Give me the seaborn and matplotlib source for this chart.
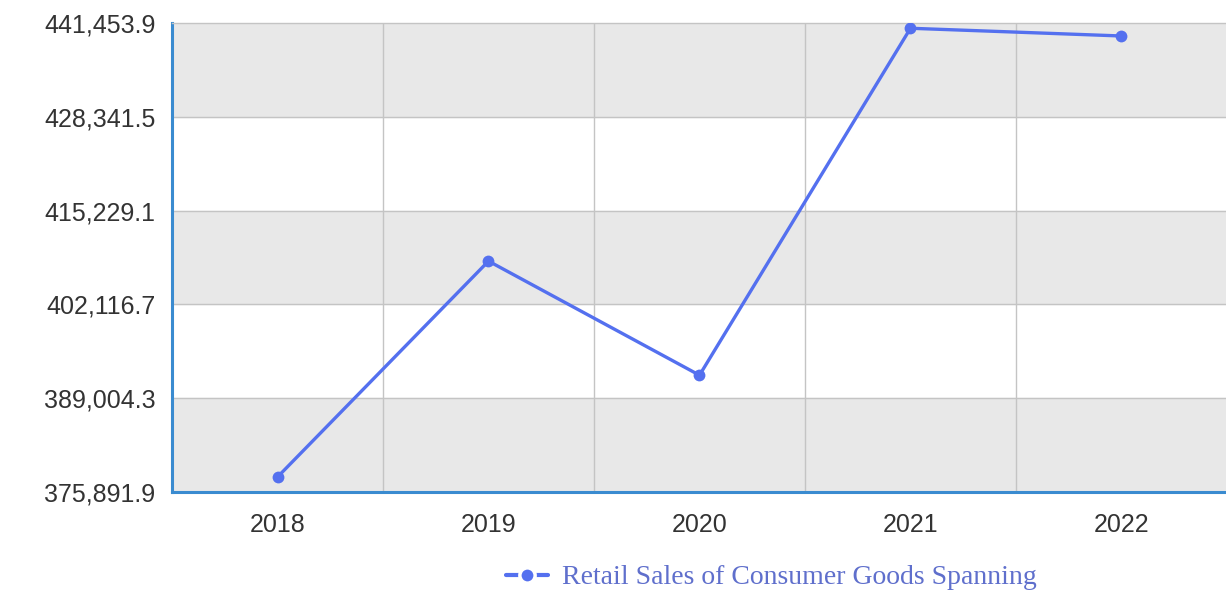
import numpy as np
import pandas as pd
import matplotlib.pyplot as plt
import seaborn as sns

# chart data
years = ["2018", "2019", "2020", "2021", "2022"]
sales = [377990.0, 408170.0, 392220.0, 440720.0, 439640.0]
y_ticks = [375891.9, 389004.3, 402116.7, 415229.1, 428341.5, 441453.9]
series_name = "Retail Sales of Consumer Goods Spanning"

df = pd.DataFrame({"Year": years, "Sales": sales, "Series": series_name})

sns.set_style("white")
plt.rcParams["font.family"] = ["Liberation Sans", "DejaVu Sans"]

fig = plt.figure(figsize=(12.26, 5.93), dpi=100)
ax = fig.add_axes([0.1403, 0.1703, 0.8605, 0.7909])

# alternating horizontal bands
for i in range(len(y_ticks) - 1):
    if i % 2 == 0:
        ax.axhspan(y_ticks[i], y_ticks[i + 1], color="#e8e8e8", zorder=0)

line_color = "#5470ef"
sns.lineplot(data=df, x="Year", y="Sales", hue="Series", palette=[line_color],
             marker="o", markersize=8.5, markeredgewidth=0, linewidth=2.4,
             ax=ax, zorder=3, legend=False)

ax.set_xlim(-0.5, len(years) - 0.5)
ax.set_ylim(y_ticks[0], y_ticks[-1])
ax.set_yticks(y_ticks)
ax.set_yticklabels([f"{v:,.1f}" for v in y_ticks])

# grid lines at category boundaries and y ticks
for b in np.arange(-0.5, len(years) + 0.5, 1):
    ax.axvline(b, color="#c4c4c4", linewidth=1.0, zorder=1)
for v in y_ticks[1:-1]:
    ax.axhline(v, color="#c4c4c4", linewidth=1.0, zorder=1)

ax.set_xticks(range(len(years)))
ax.set_xticklabels(years)
ax.set_xticks(np.arange(-0.5, len(years) + 0.5, 1), minor=True)
ax.tick_params(axis="x", which="major", length=0, pad=15, labelsize=18, labelcolor="#333333")
ax.tick_params(axis="x", which="minor", length=8, width=1, color="#888888", direction="out")
ax.tick_params(axis="y", length=0, pad=12, labelsize=18, labelcolor="#333333")

ax.set_xlabel("")
ax.set_ylabel("")

for side in ["left", "bottom"]:
    ax.spines[side].set_color("#3a8bd0")
    ax.spines[side].set_linewidth(2.2)
ax.spines["top"].set_color("#c4c4c4")
ax.spines["top"].set_linewidth(1.0)
ax.spines["right"].set_visible(False)

# legend below the chart
handle = plt.Line2D([], [], color=line_color, marker="o", markersize=11,
                    markeredgecolor="white", markeredgewidth=2.5, linewidth=3)
leg = fig.legend([handle], [series_name], loc="center", bbox_to_anchor=(0.629, 0.026),
                 frameon=False, handlelength=1.5, handletextpad=0.5,
                 prop={"family": "Liberation Serif", "size": 20})
for t in leg.get_texts():
    t.set_color("#5f6fcc")

fig.savefig("out.png", dpi=100, facecolor="white")
